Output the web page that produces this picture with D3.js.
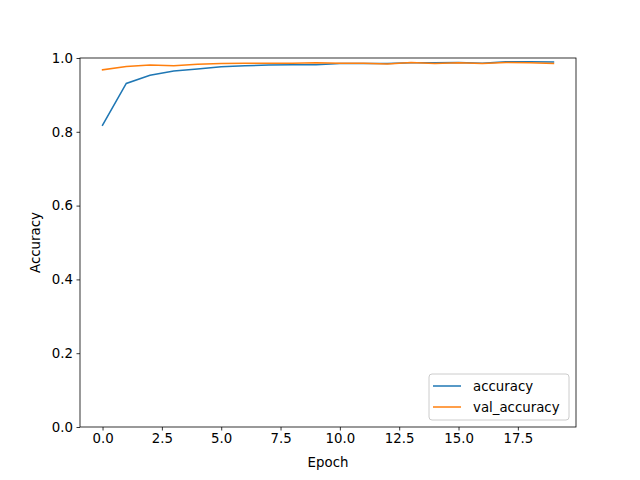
<!DOCTYPE html>
<html><head><meta charset="utf-8">
<script src="https://cdn.jsdelivr.net/npm/d3@7"></script>
<style>body{margin:0;background:#fff;}svg{display:block;font-family:"DejaVu Sans",sans-serif;}</style>
</head><body>
<script>
const epochs = d3.range(20);
const accuracy = [0.818,0.931,0.953,0.965,0.970,0.976,0.979,0.981,0.982,0.982,0.985,0.985,0.985,0.987,0.987,0.988,0.986,0.990,0.990,0.989];
const valAccuracy = [0.968,0.977,0.981,0.979,0.983,0.985,0.986,0.986,0.986,0.987,0.986,0.986,0.984,0.988,0.985,0.987,0.985,0.988,0.987,0.985];
const xTicks = [0,2.5,5,7.5,10,12.5,15,17.5];
const yTicks = [0,0.2,0.4,0.6,0.8,1.0];
const seriesNames = ["accuracy","val_accuracy"];
const colors = ["#1f77b4","#ff7f0e"];

const W=640,H=480,L=80,R=576,T=58,B=427;
const svg=d3.select("body").append("svg").attr("width",W).attr("height",H);
const x=d3.scaleLinear().domain([-0.95,19.95]).range([L,R]);
const y=d3.scaleLinear().domain([0,1]).range([B,T]);

const line=d3.line().x((d,i)=>x(epochs[i])).y(d=>y(d));
[accuracy,valAccuracy].forEach((s,k)=>{
  svg.append("path").datum(s).attr("d",line).attr("fill","none").attr("stroke",colors[k]).attr("stroke-width",1.5).attr("stroke-linecap","square");
});

svg.append("rect").attr("x",L).attr("y",T).attr("width",R-L).attr("height",B-T).attr("fill","none").attr("stroke","#000").attr("stroke-width",0.8);

const xa=svg.append("g").attr("transform",`translate(0,${B})`).call(d3.axisBottom(x).tickValues(xTicks).tickFormat(d3.format(".1f")).tickSize(3.5).tickPadding(3.5));
const ya=svg.append("g").attr("transform",`translate(${L},0)`).call(d3.axisLeft(y).tickValues(yTicks).tickFormat(d3.format(".1f")).tickSize(3.5).tickPadding(3.5));
[xa,ya].forEach(a=>{a.select(".domain").remove();a.selectAll("line").attr("stroke","#000").attr("stroke-width",0.8);a.selectAll("text").attr("font-size","13.33px").attr("fill","#000").attr("font-family","DejaVu Sans");});

svg.append("text").attr("x",(L+R)/2).attr("y",467).attr("text-anchor","middle").attr("font-size","13.33px").text("Epoch");
svg.append("text").attr("transform",`translate(40,${(T+B)/2}) rotate(-90)`).attr("text-anchor","middle").attr("font-size","13.33px").text("Accuracy");

const lg=svg.append("g");
lg.append("rect").attr("x",429).attr("y",374).attr("width",140).attr("height",46).attr("rx",3).attr("fill","#fff").attr("fill-opacity",0.8).attr("stroke","#ccc").attr("stroke-width",1);
seriesNames.forEach((n,i)=>{
  const yy=386+i*21;
  lg.append("line").attr("x1",433).attr("x2",461).attr("y1",yy).attr("y2",yy).attr("stroke",colors[i]).attr("stroke-width",1.5);
  lg.append("text").attr("x",473).attr("y",yy+5).attr("font-size","13.33px").text(n);
});
</script>
</body></html>
